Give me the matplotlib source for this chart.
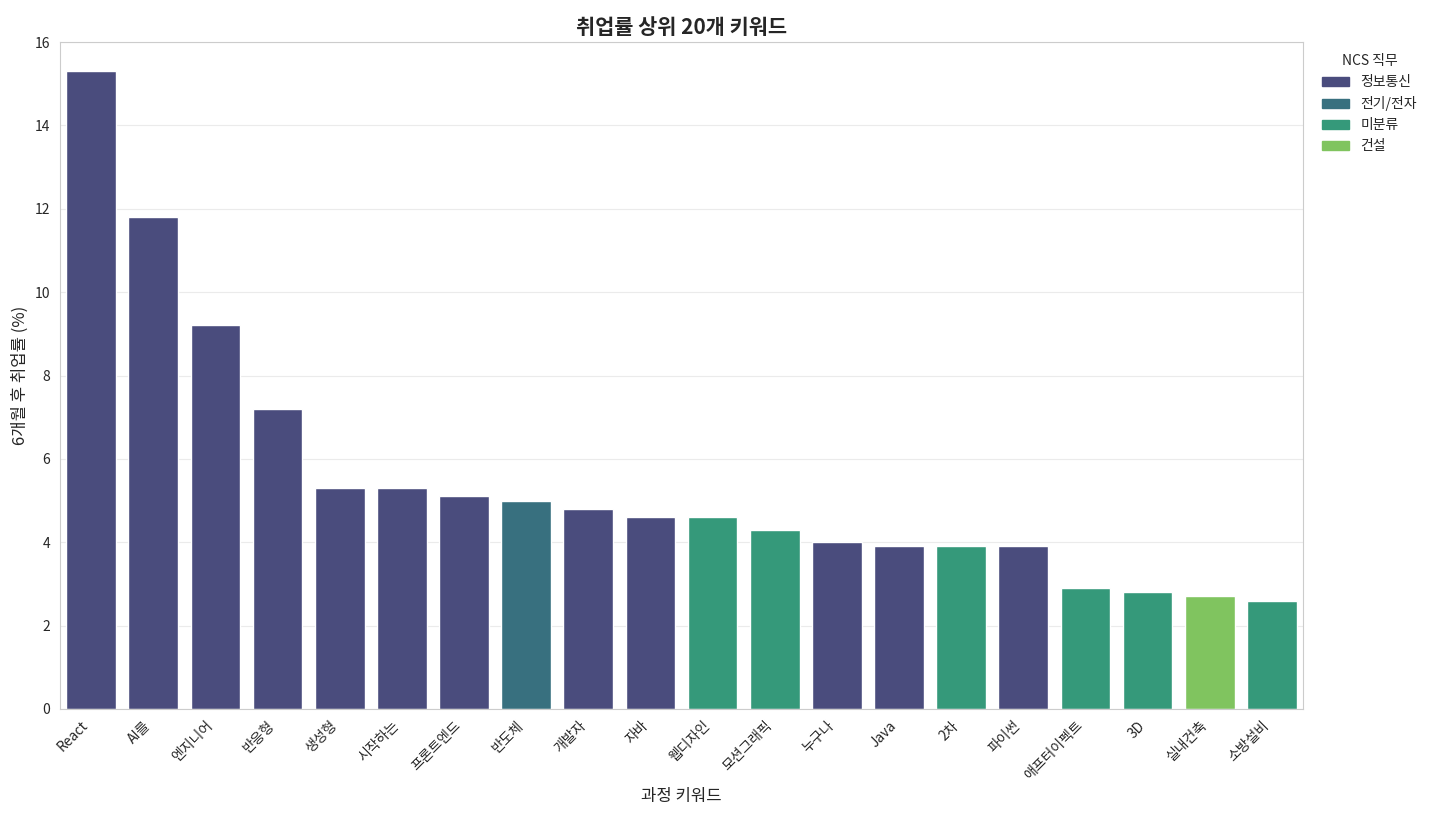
import matplotlib
matplotlib.use("Agg")
import matplotlib.pyplot as plt
import seaborn as sns
from matplotlib.patches import Patch

sns.set_style("whitegrid")
plt.rcParams['font.family'] = ['Noto Sans CJK KR', 'DejaVu Sans']

keywords = ["React","AI를","엔지니어","반응형","생성형","시작하는","프론트엔드","반도체","개발자","자바",
            "웹디자인","모션그래픽","누구나","Java","2차","파이썬","애프터이펙트","3D","실내건축","소방설비"]
rates = [15.3,11.8,9.2,7.2,5.3,5.3,5.1,5.0,4.8,4.6,4.6,4.3,4.0,3.9,3.9,3.9,2.9,2.8,2.7,2.6]
ncs = ["정보통신","정보통신","정보통신","정보통신","정보통신","정보통신","정보통신","전기/전자","정보통신","정보통신",
       "미분류","미분류","정보통신","정보통신","미분류","정보통신","미분류","미분류","건설","미분류"]
categories = ["정보통신","전기/전자","미분류","건설"]
colors = {"정보통신":"#4a4c7d","전기/전자":"#38707f","미분류":"#35997a","건설":"#80c45f"}

fig = plt.figure(figsize=(14.4,8.23), dpi=100)
ax = fig.add_axes([60/1440, 1-709/823, 1243/1440, 667/823])
x = range(len(keywords))
ax.bar(x, rates, width=0.8, color=[colors[c] for c in ncs])
ax.set_xlim(-0.5, len(keywords)-0.5)
ax.set_ylim(0, 16)
ax.set_xticks(list(x))
ax.set_xticklabels(keywords, rotation=45, ha='right', fontsize=10)
ax.tick_params(axis='y', labelsize=10)
ax.set_xlabel("과정 키워드", fontsize=12)
ax.set_ylabel("6개월 후 취업률 (%)", fontsize=12)
ax.set_title("취업률 상위 20개 키워드", fontsize=15, fontweight='bold')
ax.grid(axis='x', visible=False)
ax.grid(axis='y', color='#ebebeb')
for s in ax.spines.values():
    s.set_color('#cccccc')
handles = [Patch(color=colors[c], label=c) for c in categories]
ax.legend(handles=handles, title="NCS 직무", loc='upper left', bbox_to_anchor=(1.005, 1.0),
          frameon=False, fontsize=10, title_fontsize=10)
fig.savefig("out.png", dpi=100)
